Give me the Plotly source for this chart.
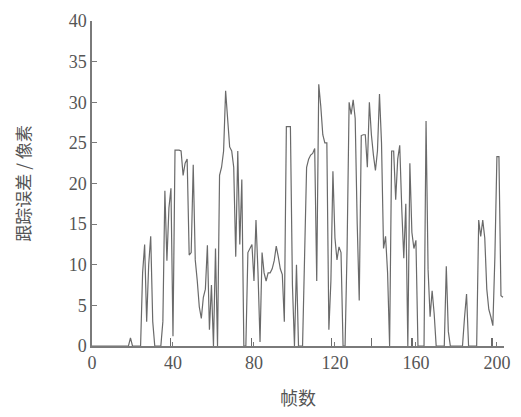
import plotly.graph_objects as go

# Frame index and tracking error (pixels)
frames = list(range(0, 204))
error = (
    [0]*19 + [1] + [0]*5 +                                  # 0-24
    [9, 12.5, 3, 10, 13.5, 3, 0, 0, 0, 0,                   # 25-34
     3, 19.1, 10.5, 17, 19.4, 1.2, 24.1, 24.1, 24.1, 24,    # 35-44
     21, 22.5, 23, 11.2, 11.5, 22.3, 10.6, 8, 4.8, 3.4,     # 45-54
     6, 7, 12.4, 2, 7.5, 0, 12, 0, 21, 22,                  # 55-64
     24, 31.4, 28, 24.5, 24, 22, 11, 24, 12.5, 20.5,        # 65-74
     0, 0, 11.5, 12, 12.5, 8, 15.5, 9, 0.5, 11.5,           # 75-84
     9, 8, 9, 9, 9.5, 10.5, 12.3, 11, 9.5, 8.8,             # 85-94
     3, 27, 27, 27, 7.5, 0, 10, 0, 0, 0,                    # 95-104
     11, 22, 23, 23.5, 23.7, 24.3, 8, 32.2, 29.5, 26,       # 105-114
     25, 25, 2, 8, 21.5, 13.3, 10.6, 12.2, 11.5, 0,         # 115-124
     0, 12, 30, 28.5, 30.3, 28, 15, 5.6, 25.9, 26,          # 125-134
     26, 22, 30, 26, 23.5, 21.6, 24, 31, 25, 12,            # 135-144
     13.5, 9, 0, 24, 24, 18, 23, 24.7, 16.9, 10.8,          # 145-154
     17.5, 0, 22.5, 14, 12, 13, 0, 0, 0, 0,                 # 155-164
     27.7, 9.4, 3.6, 6.8, 4, 0, 0, 0, 0, 0,                 # 165-174
     9.8, 1.8, 0, 0, 0, 0, 0, 0, 0, 3.5,                    # 175-184
     6.4, 0, 0, 0, 0, 0, 15.5, 13.5, 15.5, 13.3,            # 185-194
     7, 4.5, 3.6, 2.5, 11, 23.3, 23.3, 6.2, 6]              # 195-203
)
error = error[:len(frames)]
frames = frames[:len(error)]

# Small isolated marks at the baseline (frame, height)
mark_frames = [38.7, 78.8, 118.3, 138, 158, 197.6]
mark_heights = [1, 1, 1, 1, 1, 1]

x_ticks = [0, 40, 80, 120, 160, 200]
y_ticks = [0, 5, 10, 15, 20, 25, 30, 35, 40]

line_color = "#6a6a6a"
axis_color = "#7a7a7a"
text_color = "#555555"
num_font = "Liberation Serif, Times New Roman, serif"
cjk_font = "Noto Sans CJK SC, sans-serif"

fig = go.Figure()
fig.add_trace(go.Scatter(x=frames, y=error, mode="lines",
                         line=dict(color=line_color, width=1.2),
                         showlegend=False, hoverinfo="skip"))
fig.add_trace(go.Bar(x=mark_frames, y=mark_heights, width=0.35,
                     marker=dict(color=line_color, line=dict(width=0)),
                     showlegend=False, hoverinfo="skip"))

fig.update_layout(
    width=521, height=417,
    margin=dict(l=92, r=11, t=18, b=67),
    paper_bgcolor="white", plot_bgcolor="white",
    xaxis=dict(range=[0, 203.5], tickvals=x_ticks,
               ticks="inside", ticklen=4, tickcolor=axis_color,
               showline=True, linecolor=axis_color, linewidth=1.5,
               showgrid=False, zeroline=False,
               tickfont=dict(family=num_font, size=18, color=text_color),
               title=dict(text="帧数", standoff=20,
                          font=dict(family=cjk_font, size=18, color=text_color))),
    yaxis=dict(range=[0, 40], tickvals=y_ticks,
               ticks="inside", ticklen=5, tickcolor=axis_color,
               showline=True, linecolor=axis_color, linewidth=1.5,
               showgrid=False, zeroline=False,
               tickfont=dict(family=num_font, size=18, color=text_color),
               title=dict(text="跟踪误差 / 像素", standoff=34,
                          font=dict(family=cjk_font, size=17, color=text_color))),
)

fig.write_html("out.html")
